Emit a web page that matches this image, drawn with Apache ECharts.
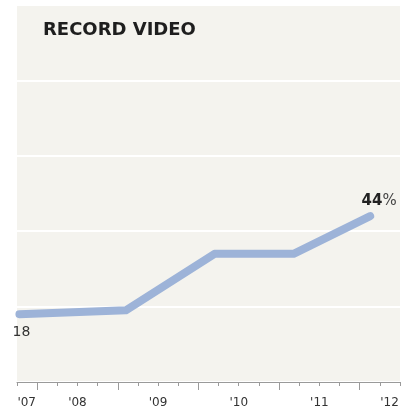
<!DOCTYPE html>
<html>
<head>
<meta charset="utf-8">
<script src="https://cdn.jsdelivr.net/npm/echarts@6/dist/echarts.min.js"></script>
<style>
html,body{margin:0;padding:0;background:#ffffff;}
#c{width:417px;height:412px;}
</style>
</head>
<body>
<div id="c"></div>
<script>
// Data (x = year position, y = percent)
var years = [2007.78, 2009.1, 2010.2, 2011.18, 2012.13];
var values = [18, 19, 34, 34, 44];
var tickLabels = ["'07", "'08", "'09", "'10", "'11", "'12"];
var tickLabelYears = [2007.87, 2008.5, 2009.5, 2010.5, 2011.5, 2012.37];
var majorTickYears = [2008, 2009, 2010, 2011, 2012];

var chart = echarts.init(document.getElementById('c'), null, {renderer: 'canvas'});

var seriesData = years.map(function (x, i) {
  var item = {value: [x, values[i]], label: {show: false}};
  if (i === 0) {
    item.label = {show: true, position: 'bottom', distance: 11, offset: [2, 0], formatter: String(values[i]),
      fontFamily: 'DejaVu Sans', fontSize: 14, color: '#333333'};
  } else if (i === years.length - 1) {
    item.label = {show: true, position: 'top', distance: 7, offset: [9, 0],
      formatter: '{b|' + values[i] + '}{n|%}',
      rich: {
        b: {fontFamily: 'DejaVu Sans', fontWeight: 'bold', fontSize: 15, color: '#222222'},
        n: {fontFamily: 'DejaVu Sans', fontSize: 15, color: '#444444'}
      }};
  }
  return item;
});

function labelFor(v) {
  for (var i = 0; i < tickLabelYears.length; i++) {
    if (Math.abs(tickLabelYears[i] - v) < 1e-6) return tickLabels[i];
  }
  return '';
}

chart.setOption({
  animation: false,
  backgroundColor: '#ffffff',
  title: {
    text: 'RECORD VIDEO',
    left: 38, top: 16,
    textStyle: {fontFamily: 'DejaVu Sans', fontWeight: 'bold', fontSize: 18, color: '#1e1e1e'}
  },
  grid: {
    left: 17, right: 17, top: 5, bottom: 30,
    show: true, backgroundColor: '#f4f3ee', borderWidth: 0
  },
  xAxis: [
    {
      type: 'value', min: 2007.75, max: 2012.5, interval: 0.25,
      splitLine: {show: false},
      axisLine: {show: true, lineStyle: {color: '#9a9a9a', width: 1}},
      axisTick: {show: true, length: 4, lineStyle: {color: '#9a9a9a'}},
      axisLabel: {show: false}
    },
    {
      type: 'value', min: 2007.75, max: 2012.5, position: 'bottom',
      splitLine: {show: false},
      axisLine: {show: false},
      axisTick: {show: true, length: 8, customValues: majorTickYears, lineStyle: {color: '#9a9a9a'}},
      axisLabel: {
        show: true, customValues: tickLabelYears, margin: 15,
        fontFamily: 'DejaVu Sans', fontSize: 12, color: '#333333',
        formatter: labelFor
      }
    }
  ],
  yAxis: {
    type: 'value', min: 0, max: 100, interval: 20,
    axisLine: {show: false}, axisTick: {show: false}, axisLabel: {show: false},
    splitLine: {show: true, lineStyle: {color: '#ffffff', width: 2}}
  },
  series: [{
    type: 'line',
    xAxisIndex: 0,
    data: seriesData,
    showSymbol: true,
    symbol: 'circle',
    symbolSize: 1,
    itemStyle: {color: 'rgba(0,0,0,0)', borderWidth: 0},
    clip: false,
    lineStyle: {color: '#9db3d8', width: 8, cap: 'round', join: 'round'}
  }]
});
</script>
</body>
</html>
